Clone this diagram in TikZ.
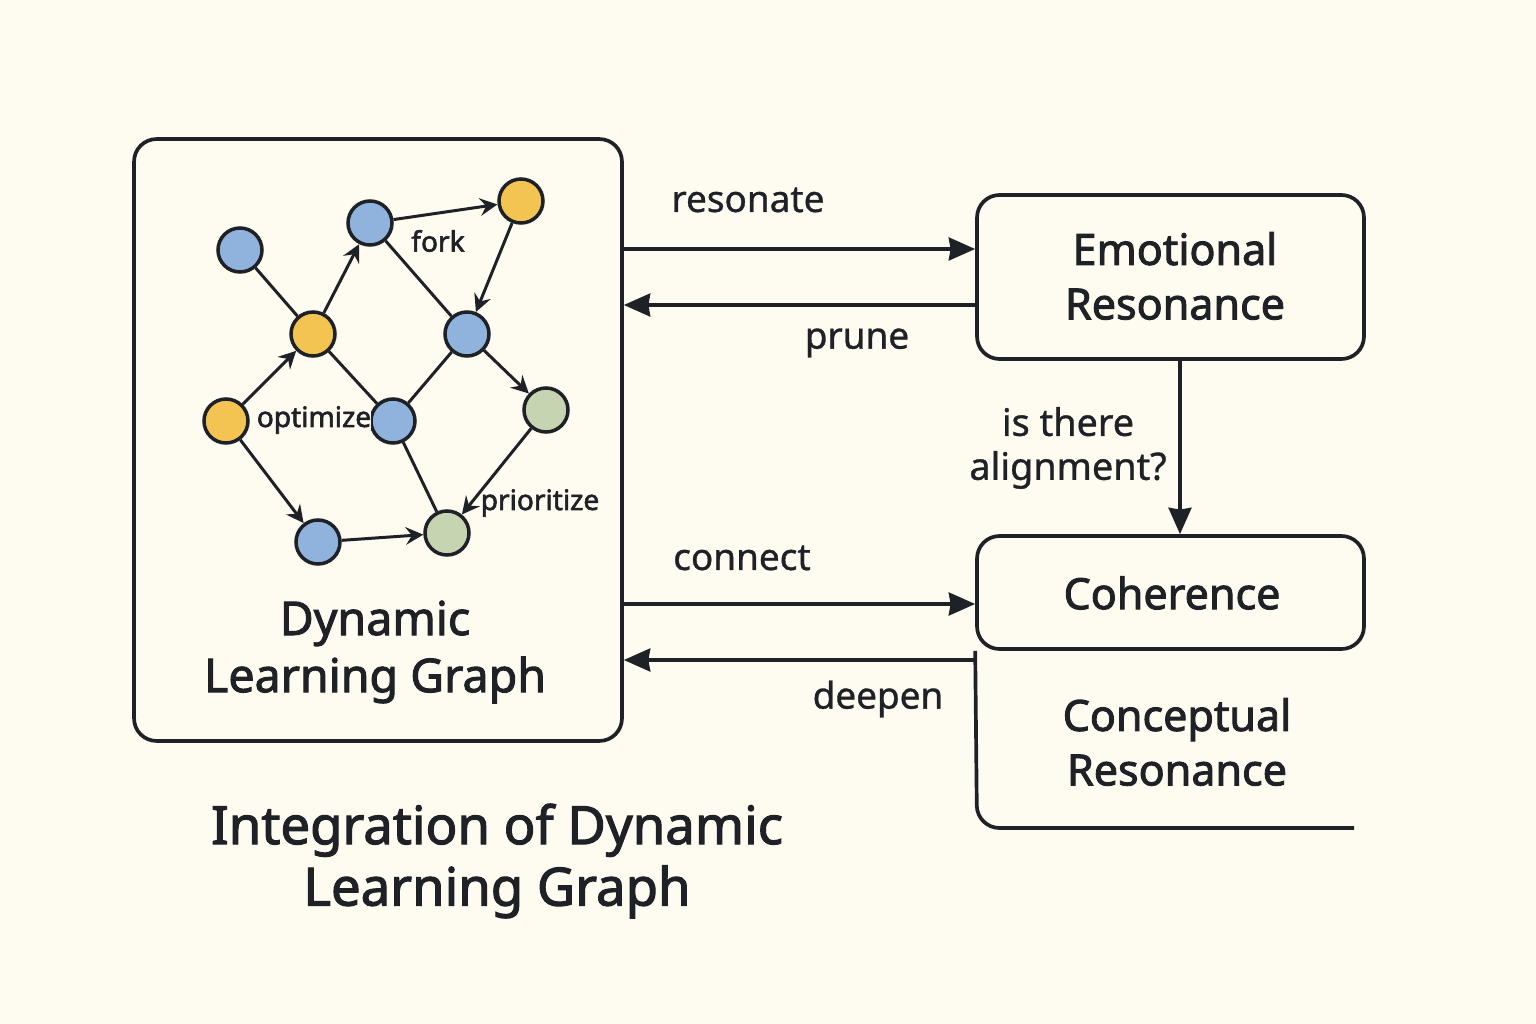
\documentclass[tikz,border=0pt]{standalone}
\usepackage{fontspec}
\setmainfont{Noto Sans}
\newfontfamily\semib[FakeBold=2.1]{Noto Sans}
\newfontfamily\medi[FakeBold=0.9]{Noto Sans}
\usetikzlibrary{arrows.meta,calc}
\definecolor{bg}{HTML}{FEFBF1}
\definecolor{ink}{HTML}{1E2125}
\definecolor{nblue}{HTML}{8FB3DC}
\definecolor{nyellow}{HTML}{F3C452}
\definecolor{ngreen}{HTML}{C6D4B1}
\tikzset{
  gnode/.style={circle,draw=ink,line width=2pt,minimum size=0.88cm,inner sep=0pt},
  gline/.style={draw=ink,line width=1.7pt},
  garr/.style={gline,-{Stealth[length=10pt,width=10pt,inset=3.5pt]}},
  bigarr/.style={draw=ink,line width=2.1pt,-{Stealth[length=15pt,width=13pt,inset=1pt]}},
  box/.style={draw=ink,line width=2.1pt,rounded corners=0.45cm,fill=bg},
  boxtxt/.style={text=ink,font=\fontsize{24.5}{31}\selectfont\semib,align=center},
  dlgtxt/.style={text=ink,font=\fontsize{26.5}{32.5}\selectfont\semib,align=center},
  lbl/.style={text=ink,font=\fontsize{21}{25}\selectfont\medi,align=center},
  glbl/.style={text=ink,font=\fontsize{16}{19}\selectfont\semib},
  ttl/.style={text=ink,font=\fontsize{30}{35}\selectfont\semib,align=center}
}
\begin{document}
\begin{tikzpicture}[x=0.02cm,y=-0.02cm]
\fill[bg] (0,0) rectangle (1536,1024);
\useasboundingbox (0,0) rectangle (1536,1024);

% main boxes
\node[box,minimum width=9.76cm,minimum height=12.04cm] (dlg) at (378,440) {};
\node[box,minimum width=7.74cm,minimum height=3.28cm] (emo) at (1170.5,277) {};
\node[box,minimum width=7.74cm,minimum height=2.26cm] (coh) at (1170.5,592.5) {};
\draw[draw=ink,line width=2.1pt,rounded corners=0.45cm] (coh.south west) -- (977,828) -- (1354,828);

% box texts
\node[boxtxt] (emot) at (1175,276) {Emotional\\Resonance};
\node[boxtxt] (coht) at (1172,593) {Coherence};
\node[boxtxt] (cont) at (1177,742) {Conceptual\\Resonance};
\node[dlgtxt] (dlgt) at (375,652) {Dynamic\\Learning Graph};
\node[ttl] (title) at (497,861) {Integration of Dynamic\\Learning Graph};

% graph nodes
\node[gnode,fill=nblue] (n1) at (240,250) {};
\node[gnode,fill=nblue] (n2) at (370,223) {};
\node[gnode,fill=nyellow] (n3) at (521,201) {};
\node[gnode,fill=nyellow] (n4) at (313,334) {};
\node[gnode,fill=nblue] (n5) at (467,334) {};
\node[gnode,fill=nyellow] (n6) at (226,421) {};
\node[gnode,fill=nblue] (n7) at (393,421) {};
\node[gnode,fill=ngreen] (n8) at (546,410) {};
\node[gnode,fill=nblue] (n9) at (318,542) {};
\node[gnode,fill=ngreen] (n10) at (447,533) {};

% graph edges
\draw[gline] (n1) -- (n4);
\draw[gline] (n2) -- (n5);
\draw[gline] (n4) -- (n7);
\draw[gline] (n5) -- (n7);
\draw[gline] (n7) -- (n10);
\draw[garr] (n4) -- (n2);
\draw[garr] (n2) -- (n3);
\draw[garr] (n3) -- (n5);
\draw[garr] (n6) -- (n4);
\draw[garr] (n5) -- (n8);
\draw[garr] (n6) -- (n9);
\draw[garr] (n8) -- (n10);
\draw[garr] (n9) -- (n10);

% graph labels
\node[glbl] (lfork) at (438,241) {fork};
\node[glbl,fill=bg,inner sep=0pt] (lopt) at (314,420) {optimize};
\node[glbl] (lpri) at (540,503) {prioritize};

% connectors
\coordinate (yres) at (800,249);
\coordinate (ypru) at (800,305);
\coordinate (ycon) at (800,604);
\coordinate (ydee) at (800,660);
\coordinate (xv) at (1180,450);
\draw[bigarr] (dlg.east |- yres) -- (emo.west |- yres);
\draw[bigarr] (emo.west |- ypru) -- (dlg.east |- ypru);
\draw[bigarr] (dlg.east |- ycon) -- (coh.west |- ycon);
\draw[bigarr] (977,660) -- (dlg.east |- ydee);
\draw[bigarr] (emo.south -| xv) -- (coh.north -| xv);

% connector labels
\node[lbl] (lres) at (748,200) {resonate};
\node[lbl] (lpru) at (857,343) {prune};
\node[lbl] (lcon) at (742,558) {connect};
\node[lbl] (ldee) at (878,699) {deepen};
\node[lbl,inner sep=0pt,font=\fontsize{21.5}{25}\selectfont\medi] (lali) at (1068,448) {is there\\alignment?};
\end{tikzpicture}
\end{document}
